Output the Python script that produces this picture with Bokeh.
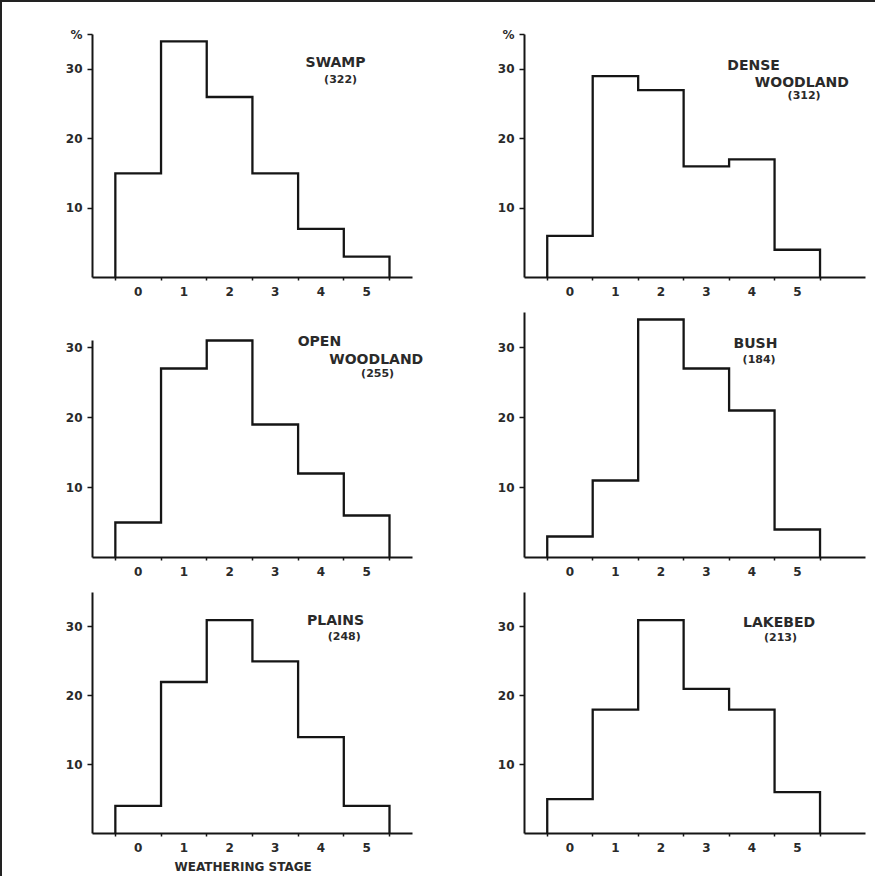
import numpy as np
from bokeh.plotting import figure
from bokeh.layouts import column, row
from bokeh.models import FixedTicker, Range1d, Title
from bokeh.core.properties import value
from bokeh.embed import file_html
from bokeh.resources import INLINE

# ---- data ----
stages = [0, 1, 2, 3, 4, 5]
y_ticks = [10, 20, 30]
pct_tick = 35
pct_symbol = "%"

swamp = [15, 34, 26, 15, 7, 3]
dense_woodland = [6, 29, 27, 16, 17, 4]
open_woodland = [5, 27, 31, 19, 12, 6]
bush = [3, 11, 34, 27, 21, 4]
plains = [4, 22, 31, 25, 14, 4]
lakebed = [5, 18, 31, 21, 18, 6]

swamp_title = ["SWAMP", "(322)"]
dense_title = ["DENSE", "WOODLAND", "(312)"]
open_title = ["OPEN", "WOODLAND", "(255)"]
bush_title = ["BUSH", "(184)"]
plains_title = ["PLAINS", "(248)"]
lakebed_title = ["LAKEBED", "(213)"]

x_axis_title = "WEATHERING STAGE"

LINE = "#151515"
TEXT = "#2a2a2a"
FONT = "DejaVu Sans"


def make_panel(vals, title, title_pos, x_end, x_axis_end, y_axis_end,
               width, height, mb_left, mb_right, mb_top, mb_bottom,
               pct=False, xlabel=None):
    p = figure(width=width, height=height, output_backend="svg",
               toolbar_location=None, x_range=Range1d(-1, x_end),
               y_range=Range1d(0, 35),
               min_border_left=mb_left, min_border_right=mb_right,
               min_border_top=mb_top, min_border_bottom=mb_bottom)
    p.outline_line_color = None
    p.grid.visible = False
    p.background_fill_color = "white"
    p.border_fill_color = "white"

    edges = np.arange(len(vals) + 1) - 0.5
    xs = np.repeat(edges, 2)
    ys = np.concatenate([[0], np.repeat(vals, 2), [0]])
    p.line(xs, ys, line_color=LINE, line_width=2.3, line_join="miter")

    # x axis: labels at stage centres, small ticks at bin edges
    xa = p.xaxis[0]
    xa.bounds = (-1, x_axis_end)
    xa.ticker = FixedTicker(ticks=stages, minor_ticks=list(edges))
    xa.major_tick_in = 0
    xa.major_tick_out = 0
    xa.minor_tick_in = 0
    xa.minor_tick_out = 3
    xa.minor_tick_line_width = 1.5
    xa.minor_tick_line_color = LINE
    xa.axis_line_width = 2
    xa.axis_line_color = LINE
    xa.major_label_text_font = FONT
    xa.major_label_text_font_style = "bold"
    xa.major_label_text_font_size = "12px"
    xa.major_label_text_color = TEXT
    xa.major_label_standoff = 6
    if xlabel:
        p.add_layout(Title(text=xlabel, align="left", offset=82,
                           standoff=6, text_font=FONT,
                           text_font_style="bold", text_font_size="12px",
                           text_color=TEXT), "below")

    ya = p.yaxis[0]
    ya.bounds = (0, y_axis_end)
    ticks = list(y_ticks) + ([pct_tick] if pct else [])
    ya.ticker = FixedTicker(ticks=ticks, minor_ticks=[])
    if pct:
        ya.major_label_overrides = {pct_tick: pct_symbol}
    ya.major_tick_in = 0
    ya.major_tick_out = 5
    ya.major_tick_line_width = 1.5
    ya.major_tick_line_color = LINE
    ya.minor_tick_out = 0
    ya.minor_tick_in = 0
    ya.axis_line_width = 2
    ya.axis_line_color = LINE
    ya.major_label_text_font = FONT
    ya.major_label_text_font_style = "bold"
    ya.major_label_text_font_size = "12px"
    ya.major_label_text_color = TEXT
    ya.major_label_standoff = 5

    for txt, (tx, ty, align, size) in zip(title, title_pos):
        p.text(x=[tx], y=[ty], text=[txt], text_font=value(FONT),
               text_font_style="bold", text_font_size=size,
               text_align=align, text_baseline="middle", text_color=TEXT)
    return p


BIG = "14px"
SMALL = "11px"
LX_END = 6.66   # left-column frame extent (stage units)
RX_END = 6.5    # right-column frame extent

p1 = make_panel(swamp, swamp_title,
                [(4.32, 31.0, "center", BIG), (4.43, 28.5, "center", SMALL)],
                LX_END, 6.0, 35, 450, 300, 90, 10, 32, 25, pct=True)
p2 = make_panel(dense_woodland, dense_title,
                [(3.46, 30.6, "left", BIG), (5.10, 28.2, "center", BIG),
                 (5.15, 26.2, "center", SMALL)],
                RX_END, 6.5, 35, 423, 300, 72, 10, 32, 25, pct=True)
p3 = make_panel(open_woodland, open_title,
                [(3.49, 30.86, "left", BIG), (5.21, 28.4, "center", BIG),
                 (5.24, 26.3, "center", SMALL)],
                LX_END, 6.0, 31, 450, 280, 90, 10, 10, 25)
p4 = make_panel(bush, bush_title,
                [(4.08, 30.6, "center", BIG), (4.16, 28.3, "center", SMALL)],
                RX_END, 6.5, 35, 423, 280, 72, 10, 10, 25)
p5 = make_panel(plains, plains_title,
                [(4.32, 31.0, "center", BIG), (4.51, 28.6, "center", SMALL)],
                LX_END, 6.0, 35, 450, 294, 90, 10, 10, 41, xlabel=x_axis_title)
p6 = make_panel(lakebed, lakebed_title,
                [(4.60, 30.7, "center", BIG), (4.63, 28.4, "center", SMALL)],
                RX_END, 6.5, 35, 423, 294, 72, 10, 10, 41)

layout = column(row(p1, p2), row(p3, p4), row(p5, p6),
                styles={"border-top": "2px solid #222",
                        "border-left": "2px solid #222"})

open("out.html", "w").write(file_html(layout, INLINE))
